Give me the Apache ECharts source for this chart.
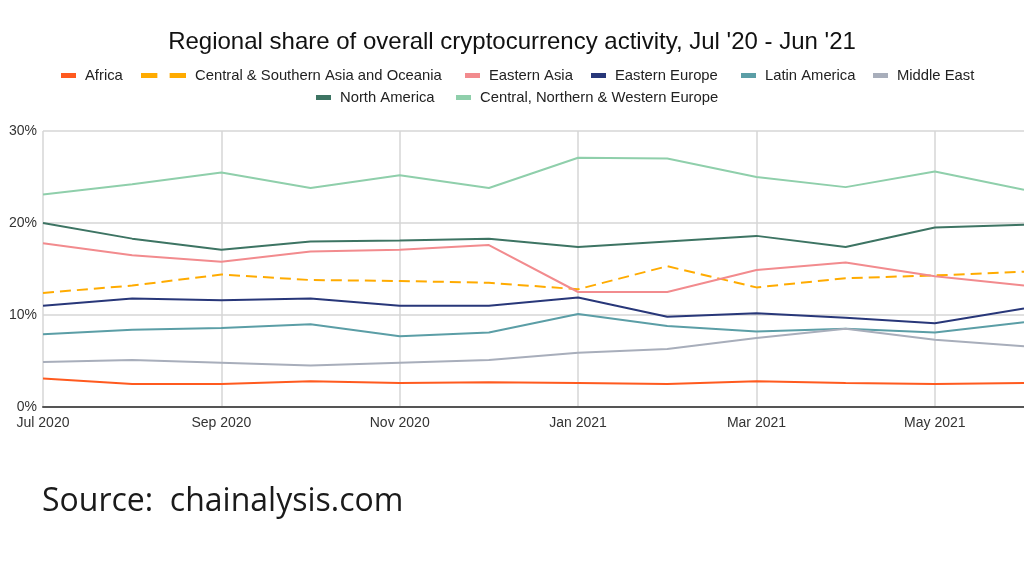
<!DOCTYPE html>
<html>
<head>
<meta charset="utf-8">
<script src="https://cdn.jsdelivr.net/npm/echarts@6/dist/echarts.min.js"></script>
<style>
html,body{margin:0;padding:0;background:#fff;}
#chart{width:1024px;height:576px;}
</style>
</head>
<body>
<div id="chart"></div>
<script>
var months = ['Jul 2020','Aug 2020','Sep 2020','Oct 2020','Nov 2020','Dec 2020','Jan 2021','Feb 2021','Mar 2021','Apr 2021','May 2021','Jun 2021'];
var seriesNames = ['Africa','Central & Southern Asia and Oceania','Eastern Asia','Eastern Europe','Latin America','Middle East','North America','Central, Northern & Western Europe'];
var africa = [3.1,2.5,2.5,2.8,2.6,2.7,2.6,2.5,2.8,2.6,2.5,2.6];
var centralSouthernAsia = [12.4,13.2,14.4,13.8,13.7,13.5,12.8,15.3,13.0,14.0,14.3,14.7];
var easternAsia = [17.8,16.5,15.8,16.9,17.1,17.6,12.5,12.5,14.9,15.7,14.2,13.2];
var easternEurope = [11.0,11.8,11.6,11.8,11.0,11.0,11.9,9.8,10.2,9.7,9.1,10.7];
var latinAmerica = [7.9,8.4,8.6,9.0,7.7,8.1,10.1,8.8,8.2,8.5,8.1,9.2];
var middleEast = [4.9,5.1,4.8,4.5,4.8,5.1,5.9,6.3,7.5,8.5,7.3,6.6];
var northAmerica = [20.0,18.3,17.1,18.0,18.1,18.3,17.4,18.0,18.6,17.4,19.5,19.8];
var cnwEurope = [23.1,24.2,25.5,23.8,25.2,23.8,27.1,27.0,25.0,23.9,25.6,23.6];
var yTicks = [0,10,20,30];
var titleText = "Regional share of overall cryptocurrency activity, Jul '20 - Jun '21";
var sourceText = 'Source:  chainalysis.com';

var colors = ['#ff5a1f','#ffab00','#f28b8e','#283779','#5b9ea6','#a8aebb','#3d7463','#8fcfab'];
var allData = [africa,centralSouthernAsia,easternAsia,easternEurope,latinAmerica,middleEast,northAmerica,cnwEurope];

var font = '"Liberation Sans", Arial, sans-serif';
var legendPos = [
  {left:61, top:68},
  {left:141, top:68},
  {left:465, top:68},
  {left:591, top:68},
  {left:741, top:68},
  {left:873, top:68},
  {left:316, top:90},
  {left:456, top:90}
];

var legends = seriesNames.map(function(n,i){
  var isDash = i === 1;
  return {
    data:[{name:n, icon: isDash ? 'path://M0,0H16V5H0Z M28,0H44V5H28Z' : 'rect'}],
    left: legendPos[i].left, top: legendPos[i].top,
    itemWidth: isDash ? 45 : 15, itemHeight: 5,
    symbolKeepAspect:false,
    padding:0,
    selectedMode:false,
    textStyle:{fontFamily:font, fontSize:14.8, color:'#222', padding:[0,0,0,4]}
  };
});

var series = seriesNames.map(function(n,i){
  return {
    name:n, type:'line', data:allData[i], symbol:'none', showSymbol:false,
    lineStyle:{width:2, color:colors[i], type: i===1 ? [11,6] : 'solid'},
    itemStyle:{color:colors[i]},
    z: 2
  };
});

var chart = echarts.init(document.getElementById('chart'), null, {renderer:'canvas'});
chart.setOption({
  animation:false,
  color:colors,
  title:{text:titleText, left:'center', top:25, textStyle:{fontFamily:font, fontSize:24, fontWeight:'normal', color:'#111'}},
  legend:legends,
  grid:{left:43, right:0, top:131, bottom:169, containLabel:false},
  xAxis:{
    type:'category', data:months, boundaryGap:false,
    axisLine:{show:true, lineStyle:{color:'#555', width:2}},
    axisTick:{show:false},
    axisLabel:{interval:1, fontFamily:font, fontSize:14, color:'#333', margin:9},
    splitLine:{show:true, interval:1, lineStyle:{color:'#d6d6d6', width:1.5}}
  },
  yAxis:{
    type:'value', min:0, max:30, interval:10,
    axisLine:{show:false}, axisTick:{show:false},
    axisLabel:{formatter:'{value}%', fontFamily:font, fontSize:14, color:'#333', margin:6},
    splitLine:{show:true, lineStyle:{color:'#d6d6d6', width:1.5}}
  },
  series:series,
  graphic:[{
    type:'text', left:42, top:486,
    style:{text:sourceText, fontFamily:'"Open Sans", sans-serif', fontSize:32, fill:'#1a1a1a'}
  }]
});
</script>
</body>
</html>
